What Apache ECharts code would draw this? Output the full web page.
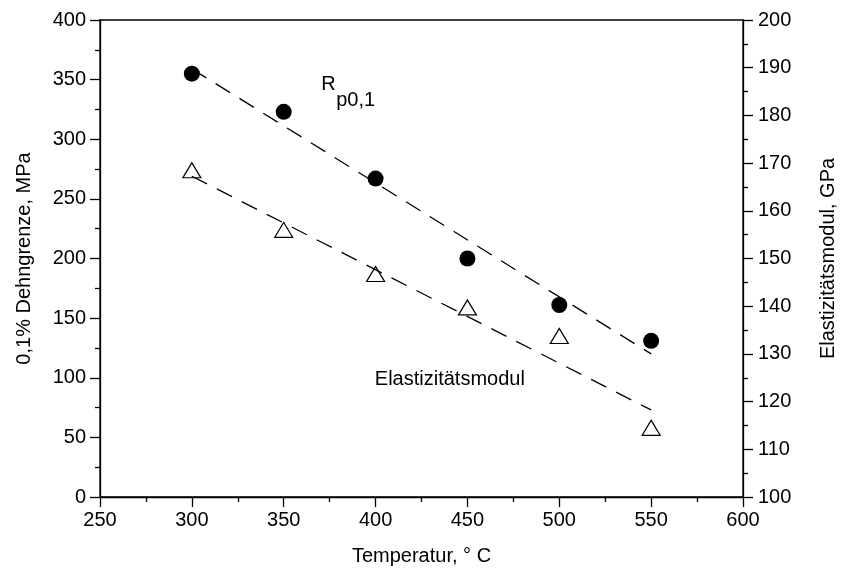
<!DOCTYPE html>
<html>
<head>
<meta charset="utf-8">
<script src="https://cdn.jsdelivr.net/npm/echarts@6/dist/echarts.min.js"></script>
<style>html,body{margin:0;padding:0;background:#fff}#c{width:846px;height:576px}</style>
</head>
<body>
<div id="c"></div>
<script>
// ---- data ----
const temps = [300, 350, 400, 450, 500, 550];
const rp01 = [355, 323, 267, 200, 161, 131];            // MPa (left axis)
const eModul = [168.5, 156, 146.75, 139.75, 133.75, 114.5]; // GPa (right axis)
const rpFitX = [300, 550];
const rpFitY = [359, 120];
const eFitX = [300, 550];
const eFitY = [167.25, 118.25];
const xTicks = [250, 300, 350, 400, 450, 500, 550, 600];
const yLeftTicks = [0, 50, 100, 150, 200, 250, 300, 350, 400];
const yRightTicks = [100, 110, 120, 130, 140, 150, 160, 170, 180, 190, 200];
const annRp = {x: 370.4, y: 345.5};
const annE = {x: 399.6, y: 98};

const FONT = '"Liberation Sans", Arial, sans-serif';
const FS = 20;
const chart = echarts.init(document.getElementById('c'));
const axisCommon = {
  axisLine: {show: true, lineStyle: {color: '#000', width: 1.3}},
  axisTick: {show: true, length: 10, lineStyle: {color: '#000', width: 1.3}},
  minorTick: {show: true, splitNumber: 2, length: 5, lineStyle: {color: '#000', width: 1.3}},
  splitLine: {show: false},
  axisLabel: {color: '#000', fontSize: FS, fontFamily: FONT},
  nameTextStyle: {color: '#000', fontSize: FS, fontFamily: FONT}
};
chart.setOption({
  animation: false,
  grid: {left: 100, right: 99, top: 20, bottom: 79, show: true, borderColor: '#000', borderWidth: 1.3},
  xAxis: Object.assign({}, axisCommon, {
    type: 'value', min: xTicks[0], max: xTicks[xTicks.length - 1], interval: 50,
    name: 'Temperatur, ° C', nameLocation: 'middle', nameGap: 49,
    axisLabel: Object.assign({}, axisCommon.axisLabel, {margin: 13})
  }),
  yAxis: [
    Object.assign({}, axisCommon, {
      type: 'value', position: 'left', min: yLeftTicks[0], max: yLeftTicks[yLeftTicks.length - 1], interval: 50,
      name: '0,1% Dehngrenze, MPa', nameLocation: 'middle', nameRotate: 90, nameGap: 66,
      axisLabel: Object.assign({}, axisCommon.axisLabel, {margin: 14})
    }),
    Object.assign({}, axisCommon, {
      type: 'value', position: 'right', min: yRightTicks[0], max: yRightTicks[yRightTicks.length - 1], interval: 10,
      name: 'Elastizitätsmodul, GPa', nameLocation: 'middle', nameRotate: 90, nameGap: 75,
      axisLabel: Object.assign({}, axisCommon.axisLabel, {margin: 15})
    })
  ],
  series: [
    {
      type: 'scatter', yAxisIndex: 0, symbol: 'circle', symbolSize: 16,
      itemStyle: {color: '#000', opacity: 1},
      data: temps.map((t, i) => [t, rp01[i]]), z: 3
    },
    {
      type: 'scatter', yAxisIndex: 1, symbol: 'triangle', symbolSize: [18, 15],
      itemStyle: {color: '#fff', borderColor: '#000', borderWidth: 1.2, opacity: 1},
      data: temps.map((t, i) => [t, eModul[i]]), z: 3
    },
    {
      type: 'line', yAxisIndex: 0, showSymbol: false, symbol: 'none',
      lineStyle: {color: '#000', width: 1.3, type: [17, 11]},
      data: rpFitX.map((t, i) => [t, rpFitY[i]]), z: 4
    },
    {
      type: 'line', yAxisIndex: 1, showSymbol: false, symbol: 'none',
      lineStyle: {color: '#000', width: 1.3, type: [17, 11]},
      data: eFitX.map((t, i) => [t, eFitY[i]]), z: 4
    }
  ]
});
const pRp = chart.convertToPixel({xAxisIndex: 0, yAxisIndex: 0}, [annRp.x, annRp.y]);
const pE = chart.convertToPixel({xAxisIndex: 0, yAxisIndex: 0}, [annE.x, annE.y]);
chart.setOption({
  graphic: [
    {type: 'text', left: pRp[0], top: pRp[1] - 11, style: {text: 'R', fontSize: FS, fontFamily: FONT, fill: '#000'}},
    {type: 'text', left: pRp[0] + 15, top: pRp[1] + 5, style: {text: 'p0,1', fontSize: FS, fontFamily: FONT, fill: '#000'}},
    {type: 'text', left: pE[0], top: pE[1] - 11, style: {text: 'Elastizitätsmodul', fontSize: FS, fontFamily: FONT, fill: '#000'}}
  ]
});
</script>
</body>
</html>
